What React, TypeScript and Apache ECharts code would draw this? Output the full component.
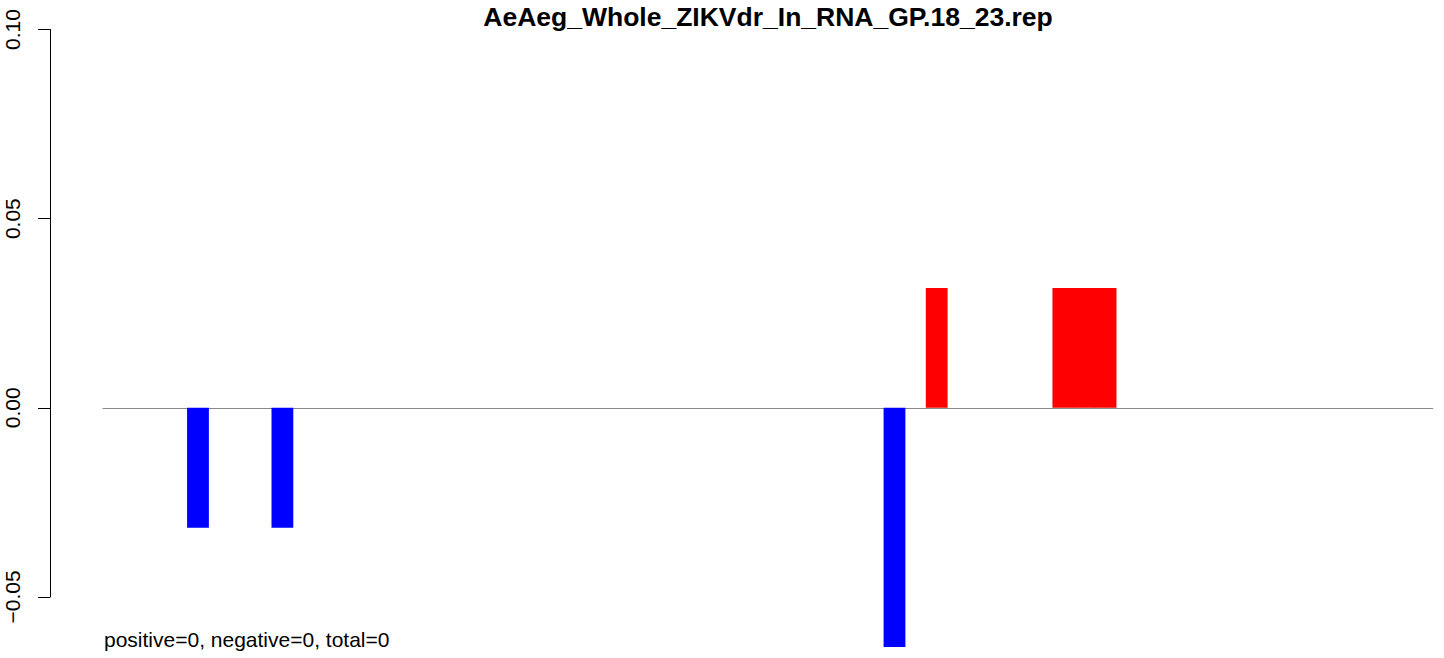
import React, { useEffect, useRef } from "react";
import * as echarts from "echarts";

const titleText = "AeAeg_Whole_ZIKVdr_In_RNA_GP.18_23.rep";
const footerText = "positive=0, negative=0, total=0";

// 63 positions along the x axis
const positions: string[] = Array.from({ length: 63 }, (_, i) => String(i + 1));

// non-zero values by position index (0-based)
const barIndices: number[] = [4, 8, 37, 39, 45, 46, 47];
const barValues: number[] = [-0.0317, -0.0317, -0.0632, 0.0317, 0.0317, 0.0317, 0.0317];

const yTicks: number[] = [-0.05, 0, 0.05, 0.1];

const FONT = "Liberation Sans, Arial, Helvetica, sans-serif";

export default function App() {
  const ref = useRef<HTMLDivElement>(null);
  useEffect(() => {
    if (!ref.current) return;
    const chart = echarts.init(ref.current, undefined, { renderer: "svg" });
    const values = positions.map((_, i) => {
      const k = barIndices.indexOf(i);
      return k >= 0 ? barValues[k] : null;
    });
    chart.setOption({
      animation: false,
      backgroundColor: "#ffffff",
      title: {
        text: titleText,
        left: 768,
        top: 3,
        padding: 0,
        textAlign: "center",
        textStyle: {
          fontFamily: FONT,
          fontWeight: "bold",
          fontSize: 26.5,
          color: "#000",
        },
      },
      grid: { left: 103, right: 11.3, top: 29.5, height: 567.5, containLabel: false },
      xAxis: {
        type: "category",
        data: positions,
        boundaryGap: true,
        axisLine: { show: true, onZero: true, lineStyle: { color: "#888888", width: 1 } },
        axisTick: { show: false },
        axisLabel: { show: false },
        splitLine: { show: false },
      },
      yAxis: {
        type: "value",
        min: -0.05,
        max: 0.1,
        interval: 0.05,
        offset: 53,
        axisLine: { show: true, lineStyle: { color: "#000", width: 1 } },
        axisTick: { show: true, length: 12, lineStyle: { color: "#000" } },
        splitLine: { show: false },
        axisLabel: {
          rotate: 90,
          margin: 27,
          fontFamily: FONT,
          fontSize: 21,
          color: "#000",
          formatter: (v: number) => {
            const t = yTicks.find((x) => Math.abs(x - v) < 1e-9);
            const n = t === undefined ? v : t;
            const s = Math.abs(n).toFixed(2);
            return n < 0 ? "\u2212" + s : s;
          },
        },
      },
      graphic: [
        {
          type: "text",
          left: 104,
          top: 628.5,
          style: {
            text: footerText,
            fontFamily: FONT,
            fontSize: 21,
            fill: "#000",
          },
        },
      ],
      series: [
        {
          type: "bar",
          clip: false,
          barWidth: 21.8,
          data: values.map((v) =>
            v === null
              ? "-"
              : {
                  value: v,
                  itemStyle: { color: v < 0 ? "#0000ff" : "#ff0000" },
                }
          ),
        },
      ],
    });
    return () => chart.dispose();
  }, []);
  return (
    <div
      ref={ref}
      style={{ position: "fixed", left: 0, top: 0, width: 1444, height: 658, background: "#fff" }}
    />
  );
}
